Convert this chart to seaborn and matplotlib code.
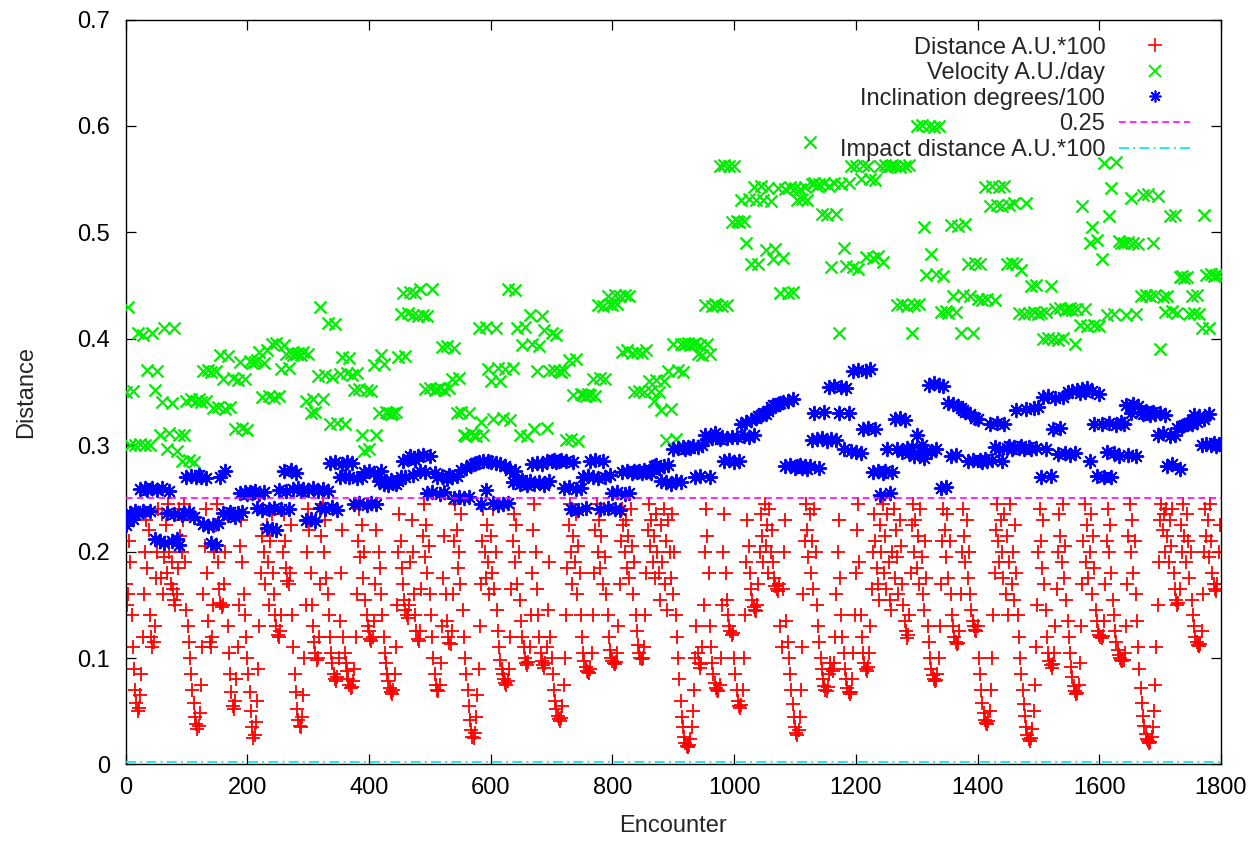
import numpy as np
import pandas as pd
import matplotlib
matplotlib.use("Agg")
import matplotlib.pyplot as plt
from matplotlib.lines import Line2D
import seaborn as sns

# ---------------- data ----------------
# Encounter spacing of the listed samples
dist_step = 2
vel_step = 4
incl_step = 4

# Distance A.U.*100, one value every 2 encounters
distance = [
    .17,.15,.16,.21,.19,.14,.11,.09,.07,.058,.05,.053,.065,.085,.12,.16,.2,.23,.185,.22,
    .14,.12,.11,.115,.13,.175,.2,.24,.21,.175,.235,.16,.195,.225,.18,.245,.2,.17,.19,.165,
    .155,.15,.16,.185,.24,.215,.2,.23,.245,.19,.145,.13,.115,.1,.085,.07,.058,.045,.038,.033,
    .036,.048,.075,.11,.16,.205,.24,.18,.135,.115,.11,.12,.15,.2,.225,.245,.19,.165,.152,.148,
    .15,.17,.2,.235,.13,.105,.085,.068,.055,.052,.06,.08,.11,.15,.205,.23,.19,.16,.14,.12,
    .1,.085,.068,.05,.035,.025,.028,.04,.06,.09,.13,.18,.215,.24,.2,.17,.225,.19,.15,.21,
    .235,.18,.16,.14,.13,.122,.12,.125,.14,.2,.235,.21,.185,.172,.17,.18,.225,.14,.11,.085,
    .068,.052,.042,.036,.035,.045,.065,.1,.15,.2,.24,.22,.18,.15,.13,.115,.105,.098,.1,.12,
    .17,.215,.245,.2,.23,.175,.16,.14,.12,.105,.095,.085,.08,.078,.082,.1,.135,.18,.22,.12,
    .105,.095,.088,.08,.075,.072,.073,.078,.09,.12,.16,.21,.24,.195,.225,.175,.2,.155,.14,.13,
    .125,.118,.116,.12,.135,.17,.22,.245,.2,.185,.16,.14,.12,.105,.095,.085,.078,.072,.068,.066,
    .07,.085,.11,.15,.2,.235,.21,.185,.17,.155,.145,.14,.138,.15,.19,.23,.2,.16,.14,.125,
    .118,.116,.125,.165,.215,.245,.195,.225,.18,.205,.16,.14,.12,.1,.085,.075,.07,.069,.075,.095,
    .13,.175,.215,.16,.135,.12,.114,.113,.125,.16,.21,.245,.22,.185,.2,.17,.235,.145,.12,.1,
    .085,.07,.055,.042,.032,.026,.025,.03,.045,.065,.09,.13,.17,.21,.24,.2,.175,.225,.19,.16,
    .215,.18,.24,.165,.2,.145,.125,.11,.098,.09,.085,.08,.077,.075,.078,.09,.12,.165,.21,.235,
    .19,.225,.17,.2,.155,.135,.12,.11,.1,.095,.093,.096,.11,.14,.18,.22,.245,.2,.165,.14,
    .12,.105,.097,.093,.091,.095,.11,.145,.19,.12,.1,.085,.07,.06,.052,.046,.043,.041,.044,.055,
    .075,.1,.14,.185,.225,.245,.2,.17,.215,.19,.235,.16,.205,.18,.14,.12,.105,.097,.092,.088,
    .087,.086,.09,.105,.14,.18,.22,.245,.2,.23,.185,.215,.17,.24,.195,.16,.14,.12,.108,.1,
    .097,.095,.094,.096,.105,.13,.17,.21,.24,.225,.2,.23,.185,.215,.175,.24,.205,.16,.19,.14,
    .125,.112,.105,.1,.099,.1,.11,.14,.18,.22,.245,.205,.23,.19,.215,.175,.235,.2,.18,.155,
    .225,.19,.24,.17,.21,.145,.23,.2,.175,.235,.16,.2,.14,.12,.1,.08,.06,.045,.035,.026,
    .02,.017,.016,.018,.024,.035,.05,.07,.1,.13,.105,.095,.091,.094,.11,.15,.2,.24,.215,.18,
    .13,.11,.095,.085,.077,.072,.07,.069,.075,.1,.15,.2,.235,.18,.155,.14,.13,.125,.122,.124,
    .1,.085,.07,.06,.055,.053,.056,.07,.1,.14,.19,.23,.205,.18,.165,.155,.148,.145,.144,.15,
    .17,.2,.235,.215,.19,.245,.205,.225,.18,.24,.2,.22,.19,.175,.168,.165,.163,.17,.13,.11,
    .165,.2,.23,.135,.115,.1,.085,.07,.057,.045,.035,.03,.028,.032,.045,.07,.11,.16,.21,.245,
    .22,.195,.235,.18,.21,.165,.24,.2,.15,.13,.115,.1,.09,.08,.074,.07,.069,.073,.085,.095,
    .09,.088,.095,.12,.16,.2,.23,.175,.14,.12,.105,.09,.08,.072,.068,.066,.068,.08,.105,.14,
    .18,.22,.245,.19,.14,.12,.105,.095,.09,.088,.092,.105,.13,.165,.2,.235,.21,.185,.17,.155,
    .225,.2,.245,.18,.215,.165,.235,.19,.155,.145,.2,.24,.175,.22,.195,.16,.23,.205,.17,.15,
    .135,.125,.119,.122,.14,.18,.225,.245,.2,.23,.185,.215,.17,.24,.195,.16,.145,.21,.175,.13,
    .115,.1,.09,.084,.08,.078,.079,.085,.1,.13,.17,.21,.24,.22,.195,.235,.175,.21,.16,.14,
    .13,.12,.115,.113,.114,.125,.16,.2,.24,.215,.19,.23,.175,.2,.16,.145,.135,.13,.126,.125,
    .13,.1,.085,.07,.058,.048,.042,.039,.038,.041,.05,.07,.1,.14,.18,.22,.245,.21,.19,.23,
    .2,.175,.235,.16,.215,.14,.19,.245,.17,.2,.155,.225,.18,.14,.12,.1,.085,.07,.057,.046,
    .035,.028,.024,.022,.025,.033,.05,.075,.11,.15,.2,.24,.21,.185,.23,.17,.145,.12,.105,.097,
    .093,.091,.094,.105,.13,.165,.2,.235,.215,.19,.245,.175,.205,.155,.135,.12,.105,.092,.082,.074,
    .069,.066,.067,.075,.095,.13,.17,.21,.245,.19,.225,.175,.2,.235,.16,.215,.185,.145,.135,.125,
    .122,.12,.119,.121,.135,.17,.21,.24,.2,.225,.18,.155,.14,.125,.115,.108,.103,.1,.098,.097,
    .098,.105,.13,.17,.215,.245,.2,.23,.18,.21,.16,.135,.11,.09,.072,.058,.046,.036,.029,.024,
    .022,.02,.021,.026,.035,.05,.075,.11,.15,.19,.23,.245,.22,.235,.2,.24,.215,.19,.23,.205,
    .24,.18,.165,.155,.15,.152,.165,.225,.2,.245,.215,.19,.235,.21,.175,.2,.155,.14,.13,.12,
    .115,.112,.111,.113,.125,.16,.2,.24,.215,.23,.195,.245,.21,.18,.17,.165,.163,.17,.2,.225,
]

# Velocity A.U./day, one value every 4 encounters
velocity = [
    .35,.43,.30,.351,.30,.405,.301,.404,.30,.371,
    .30,.405,.352,.37,.31,.341,.41,.296,.311,.34,
    .41,.295,.31,.285,.31,.342,.286,.343,.284,.342,
    .343,.341,.37,.342,.371,.369,.335,.37,.336,.385,
    .362,.334,.384,.336,.363,.315,.361,.378,.316,.362,
    .314,.379,.377,.378,.38,.388,.345,.377,.389,.346,
    .395,.344,.396,.346,.372,.394,.386,.373,.387,.385,
    .386,.387,.385,.388,.342,.386,.33,.343,.331,.365,
    .43,.343,.366,.415,.32,.364,.414,.321,.367,.383,
    .32,.368,.382,.366,.352,.368,.353,.31,.295,.352,
    .296,.351,.375,.31,.33,.385,.376,.331,.33,.329,
    .33,.331,.383,.423,.443,.384,.424,.444,.422,.443,
    .421,.447,.422,.353,.421,.354,.447,.352,.353,.354,
    .392,.352,.393,.354,.362,.391,.33,.363,.331,.31,
    .309,.33,.311,.31,.309,.41,.322,.31,.411,.372,
    .36,.325,.41,.373,.36,.326,.372,.447,.324,.373,
    .446,.41,.31,.394,.411,.309,.422,.395,.315,.37,
    .393,.421,.408,.316,.37,.405,.371,.404,.37,.369,
    .371,.305,.38,.306,.347,.381,.304,.348,.347,.346,
    .348,.347,.362,.346,.432,.363,.431,.362,.44,.433,
    .432,.441,.433,.44,.388,.441,.389,.44,.387,.35,
    .388,.351,.387,.35,.389,.36,.351,.342,.361,.35,
    .333,.36,.305,.37,.334,.395,.306,.371,.395,.369,
    .395,.396,.394,.395,.396,.386,.394,.385,.432,.395,
    .386,.431,.433,.432,.562,.431,.563,.432,.562,.51,
    .562,.511,.51,.53,.511,.49,.531,.47,.543,.53,
    .47,.544,.53,.483,.542,.529,.475,.484,.542,.443,
    .476,.541,.443,.543,.444,.542,.53,.541,.531,.543,
    .53,.585,.545,.546,.544,.545,.517,.546,.516,.544,
    .467,.546,.517,.405,.545,.485,.468,.546,.562,.467,
    .562,.466,.55,.563,.477,.562,.55,.476,.549,.478,
    .562,.472,.563,.561,.562,.563,.562,.432,.561,.433,
    .562,.431,.563,.405,.432,.6,.433,.601,.505,.46,
    .6,.48,.599,.461,.6,.425,.459,.426,.424,.507,
    .44,.425,.506,.405,.441,.508,.47,.44,.405,.471,
    .437,.47,.436,.543,.437,.525,.544,.436,.526,.543,
    .525,.544,.47,.526,.471,.528,.47,.424,.465,.423,
    .528,.424,.45,.425,.451,.423,.424,.4,.425,.401,
    .45,.4,.428,.399,.429,.401,.427,.428,.429,.427,
    .395,.428,.413,.525,.428,.412,.49,.505,.413,.493,
    .412,.475,.565,.422,.515,.542,.423,.566,.492,.49,
    .49,.422,.491,.532,.49,.423,.489,.44,.535,.441,
    .536,.44,.49,.441,.534,.39,.439,.425,.44,.515,
    .426,.516,.424,.458,.459,.457,.458,.423,.44,.424,
    .441,.423,.41,.516,.46,.41,.461,.459,.46,.461,
]

# Inclination degrees/100, one value every 4 encounters
inclination = [
    .225,.229,.236,.231,.238,.236,.259,.238,.26,.258,
    .238,.26,.212,.258,.21,.26,.208,.236,.257,.21,
    .235,.212,.206,.234,.236,.27,.237,.271,.233,.27,
    .272,.27,.226,.269,.224,.208,.225,.206,.227,.27,
    .236,.276,.234,.237,.235,.233,.236,.255,.237,.256,
    .254,.256,.255,.257,.241,.254,.239,.256,.222,.24,
    .221,.241,.22,.258,.24,.276,.257,.24,.277,.259,
    .274,.26,.257,.259,.23,.258,.231,.26,.229,.257,
    .241,.259,.24,.257,.283,.242,.284,.239,.27,.282,
    .271,.284,.27,.283,.245,.269,.246,.27,.275,.244,
    .276,.246,.274,.245,.266,.276,.264,.266,.263,.267,
    .265,.264,.266,.27,.285,.27,.287,.29,.272,.286,
    .29,.276,.291,.275,.255,.29,.256,.274,.27,.254,
    .271,.256,.268,.272,.27,.25,.271,.251,.277,.25,
    .279,.251,.281,.282,.283,.284,.245,.285,.258,.285,
    .284,.246,.283,.244,.282,.245,.28,.246,.277,.265,
    .276,.266,.264,.267,.265,.263,.266,.282,.264,.283,
    .265,.282,.263,.285,.266,.285,.286,.284,.285,.286,
    .26,.285,.261,.24,.284,.259,.239,.26,.27,.241,
    .271,.285,.27,.286,.269,.24,.285,.27,.241,.272,
    .255,.24,.256,.239,.275,.254,.276,.255,.274,.276,
    .275,.276,.274,.277,.275,.276,.274,.28,.281,.279,
    .266,.28,.265,.281,.264,.296,.266,.297,.265,.298,
    .296,.298,.297,.299,.27,.298,.271,.3,.31,.306,
    .27,.307,.311,.308,.306,.308,.285,.307,.286,.308,
    .284,.308,.285,.32,.309,.322,.308,.324,.31,.326,
    .327,.328,.33,.329,.332,.336,.338,.337,.339,.34,
    .341,.28,.342,.281,.343,.279,.28,.281,.279,.28,
    .278,.28,.305,.33,.306,.279,.307,.331,.304,.355,
    .306,.356,.305,.33,.355,.296,.354,.33,.295,.37,
    .294,.371,.293,.315,.37,.316,.372,.275,.315,.276,
    .253,.274,.276,.296,.255,.275,.325,.296,.326,.294,
    .324,.297,.293,.298,.29,.31,.292,.3,.288,.295,
    .357,.294,.358,.296,.357,.26,.356,.261,.34,.29,
    .339,.291,.337,.335,.333,.331,.285,.329,.286,.326,
    .325,.286,.284,.287,.285,.32,.286,.298,.321,.296,
    .285,.32,.297,.299,.296,.298,.333,.297,.299,.296,
    .334,.298,.296,.335,.297,.336,.27,.345,.296,.346,
    .271,.315,.344,.292,.316,.345,.293,.35,.291,.351,
    .293,.352,.349,.353,.35,.354,.285,.351,.32,.271,
    .348,.32,.27,.294,.321,.27,.293,.319,.29,.322,
    .32,.338,.291,.33,.339,.29,.337,.331,.329,.332,
    .33,.328,.331,.329,.31,.33,.311,.328,.28,.309,
    .282,.31,.316,.278,.318,.319,.32,.321,.32,.328,
    .322,.327,.3,.325,.301,.329,.3,.302,.299,.301,
]

threshold = 0.25          # "0.25" reference line
impact_distance = 0.002   # Impact distance A.U.*100

series_labels = ["Distance A.U.*100", "Velocity A.U./day", "Inclination degrees/100",
                 "0.25", "Impact distance A.U.*100"]
x_ticks = [0, 200, 400, 600, 800, 1000, 1200, 1400, 1600, 1800]
x_tick_labels = ["0", "200", "400", "600", "800", "1000", "1200", "1400", "1600", "1800"]
y_ticks = [0, 0.1, 0.2, 0.3, 0.4, 0.5, 0.6, 0.7]
y_tick_labels = ["0", "0.1", "0.2", "0.3", "0.4", "0.5", "0.6", "0.7"]

df_dist = pd.DataFrame({"Encounter": np.arange(len(distance)) * dist_step, "Distance": distance})
df_vel = pd.DataFrame({"Encounter": np.arange(len(velocity)) * vel_step, "Distance": velocity})
df_inc = pd.DataFrame({"Encounter": np.arange(len(inclination)) * incl_step, "Distance": inclination})

# ---------------- styling ----------------
sns.set_theme(style="ticks")
plt.rcParams["font.family"] = ["Liberation Sans", "DejaVu Sans"]
plt.rcParams["axes.linewidth"] = 1.0

FS = 17
fig = plt.figure(figsize=(12.59, 8.41), dpi=100)
ax = fig.add_axes([0.0997, 0.0910, 0.8701, 0.8858])

RED, GREEN, BLUE = "#ff0000", "#00ee00", "#0000ff"
MAG, CYAN = "#ff00ff", "#00e8e8"
star = (8, 2, 0)
mag_dash = (0, (4, 2.5))
cyan_dash = (0, (6, 2.5, 1.2, 2.5))

sns.scatterplot(data=df_dist, x="Encounter", y="Distance", marker="+", color=RED,
                s=110, linewidth=1.3, ax=ax, zorder=2)
sns.scatterplot(data=df_vel, x="Encounter", y="Distance", marker="x", color=GREEN,
                s=75, linewidth=1.6, ax=ax, zorder=3)
sns.scatterplot(data=df_inc, x="Encounter", y="Distance", marker=star, color=BLUE,
                s=95, linewidth=1.4, ax=ax, zorder=4)
ax.axhline(threshold, color=MAG, lw=1.2, ls=mag_dash, zorder=5)
ax.axhline(impact_distance, color=CYAN, lw=1.2, ls=cyan_dash, zorder=5)

ax.set_xlim(0, 1800)
ax.set_ylim(0, 0.7)
ax.set_xticks(x_ticks)
ax.set_xticklabels(x_tick_labels)
ax.set_yticks(y_ticks)
ax.set_yticklabels(y_tick_labels)
ax.minorticks_off()
ax.tick_params(axis="both", direction="in", length=7, width=0.9, top=True, right=True,
               labelsize=FS, colors="black")
ax.tick_params(axis="x", pad=9)
ax.tick_params(axis="y", pad=11)
for sp in ax.spines.values():
    sp.set_visible(True)
    sp.set_color("black")
    sp.set_linewidth(1.0)

ax.set_xlabel("Encounter", fontsize=FS)
ax.set_ylabel("Distance", fontsize=FS)
ax.xaxis.set_label_coords(0.5, -0.068)
ax.yaxis.set_label_coords(-0.081, 0.5)

handles = [
    Line2D([], [], ls="none", marker="+", color=RED, ms=9.5, mew=1.2),
    Line2D([], [], ls="none", marker="x", color=GREEN, ms=8, mew=1.4),
    Line2D([], [], ls="none", marker=star, color=BLUE, ms=8.5, mew=1.2),
    Line2D([], [], color=MAG, lw=1.2, ls=mag_dash),
    Line2D([], [], color=CYAN, lw=1.2, ls=cyan_dash),
]
leg = ax.legend(handles, series_labels, loc="upper right", bbox_to_anchor=(0.972, 0.977),
                bbox_transform=ax.transAxes, markerfirst=False, frameon=False,
                handlelength=3.0, handletextpad=0.6, labelspacing=0.15,
                borderpad=0, borderaxespad=0, fontsize=FS)
leg.set_zorder(10)

fig.savefig("out.png", dpi=100)
